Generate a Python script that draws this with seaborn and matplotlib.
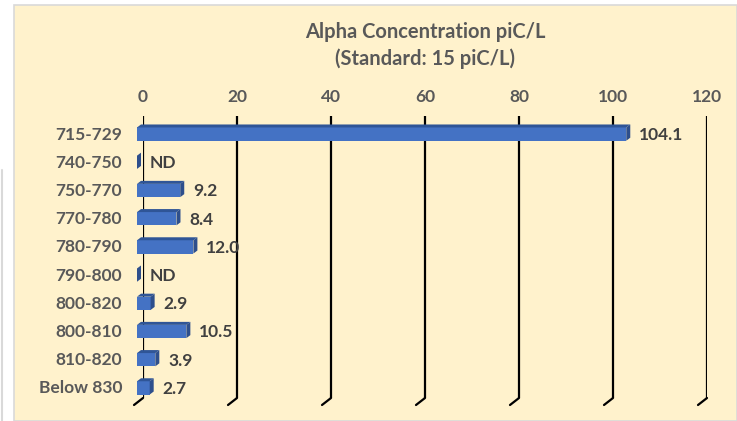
import matplotlib
matplotlib.use('Agg')
import matplotlib.pyplot as plt
import seaborn as sns
from matplotlib.patches import Polygon, Rectangle
from matplotlib.lines import Line2D
from matplotlib.transforms import ScaledTranslation, IdentityTransform

# data
categories = ['715-729', '740-750', '750-770', '770-780', '780-790',
              '790-800', '800-820', '800-810', '810-820', 'Below 830']
values = [104.1, 0.0, 9.2, 8.4, 12.0, 0.0, 2.9, 10.5, 3.9, 2.7]
value_labels = ['104.1', 'ND', '9.2', '8.4', '12.0', 'ND', '2.9', '10.5', '3.9', '2.7']
x_ticks = [0, 20, 40, 60, 80, 100, 120]

sns.set_style('white')
plt.rcParams['font.family'] = ['Lato', 'DejaVu Sans']

W, H = 737, 421
fig = plt.figure(figsize=(W / 100, H / 100), dpi=100)
fig.patch.set_facecolor('white')

# cream panel like the excel chart area
fig.add_artist(Rectangle((14 / W, 0), 1 - 14 / W, (H - 5) / H, transform=fig.transFigure,
                         facecolor='#FFF2CC', edgecolor='#D9D9D9', lw=1.2, zorder=-10))
fig.add_artist(Line2D([2 / W, 2 / W], [0, 1 - 170 / H], transform=fig.transFigure,
                      color='#D9D9D9', lw=1.5, zorder=-10))

ax = fig.add_axes([143 / W, 1 - 398 / H, 564 / W, (398 - 116) / H])
ax.set_facecolor('none')

sns.barplot(x=values, y=categories, orient='h', color='#4472C4', width=0.47,
            ax=ax, zorder=3, saturation=1)

ax.set_xlim(0, 120)
ax.set_xticks(x_ticks)
ax.xaxis.tick_top()
ax.tick_params(axis='x', length=0, pad=8, labelsize=12.5, labelcolor='#595959')
ax.tick_params(axis='y', length=0, pad=15, labelsize=12.5, labelcolor='#595959')
down = ScaledTranslation(0, -3 / 100, fig.dpi_scale_trans)
for lab in ax.get_xticklabels() + ax.get_yticklabels():
    lab.set_fontweight('bold')
for lab in ax.get_yticklabels():
    lab.set_transform(lab.get_transform() + down)
ax.set_xlabel('')
ax.set_ylabel('')
for s in ax.spines.values():
    s.set_visible(False)
ax.grid(axis='x', color='black', lw=1.6)
ax.grid(axis='y', visible=False)
ax.set_axisbelow(True)

ax.set_title('Alpha Concentration piC/L\n(Standard: 15 piC/L)', fontsize=14.5,
             fontweight='bold', color='#595959', pad=37, linespacing=1.35)

# 3d look: shift the front faces and add top / side faces
shift = ScaledTranslation(-6 / 100, -4 / 100, fig.dpi_scale_trans)
dx, dy = 4, 3
for p in ax.patches:
    p.set_transform(ax.transData + shift)
    p.set_edgecolor('none')
    p.set_clip_on(False)
fig.canvas.draw()
for p in ax.patches:
    bb = p.get_window_extent()
    x0, x1, y0, y1 = bb.x0, bb.x1, bb.y0, bb.y1
    top = Polygon([(x0, y1), (x1, y1), (x1 + dx, y1 + dy), (x0 + dx, y1 + dy)],
                  closed=True, transform=IdentityTransform(),
                  facecolor='#2F5597', edgecolor='none', zorder=5)
    side = Polygon([(x1, y0), (x1, y1), (x1 + dx, y1 + dy), (x1 + dx, y0 + dy)],
                   closed=True, transform=IdentityTransform(),
                   facecolor='#2E4F8C', edgecolor='none', zorder=5)
    fig.add_artist(top)
    fig.add_artist(side)

# floor tails of the gridlines
ybot = ax.get_ylim()[0]
for t in x_ticks:
    px, py = ax.transData.transform((t, ybot))
    fig.add_artist(Line2D([px, px - 9], [py, py - 7], transform=IdentityTransform(),
                          color='black', lw=1.6, zorder=1))

anns = ax.bar_label(ax.containers[0], labels=value_labels, padding=5, fontsize=12.5,
                    fontweight='bold', color='#404040')
for a in anns:
    a.xyann = (a.xyann[0], -3.5)

fig.savefig('out.png', dpi=100)
